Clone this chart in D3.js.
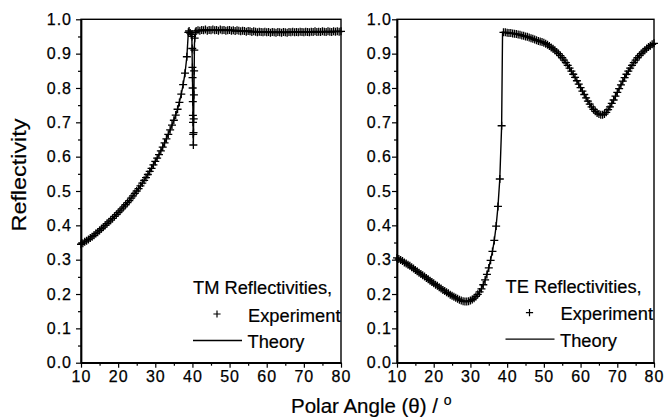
<!DOCTYPE html>
<html><head><meta charset="utf-8">
<script src="https://cdn.jsdelivr.net/npm/d3@7"></script>
<style>
html,body{margin:0;padding:0;background:#fff;}
svg text{font-family:"Liberation Sans",Arial,Helvetica,sans-serif;fill:#000;}
</style></head>
<body><svg id="c" width="664" height="419"></svg>
<script>
// ---------- DATA ----------
const xTicks = [10,20,30,40,50,60,70,80];
const yTicks = [0.0,0.1,0.2,0.3,0.4,0.5,0.6,0.7,0.8,0.9,1.0];

// TM experiment [angle, reflectivity]
const tmExp = [
[10,0.345],[10.5,0.348],[11,0.352],[11.5,0.355],[12,0.359],[12.5,0.363],[13,0.367],[13.5,0.371],[14,0.376],[14.5,0.380],
[15,0.385],[15.5,0.390],[16,0.395],[16.5,0.400],[17,0.405],[17.5,0.410],[18,0.415],[18.5,0.420],[19,0.426],[19.5,0.431],
[20,0.437],[20.5,0.442],[21,0.448],[21.5,0.454],[22,0.460],[22.5,0.466],[23,0.472],[23.5,0.479],[24,0.486],[24.5,0.493],
[25,0.500],[25.5,0.507],[26,0.515],[26.5,0.523],[27,0.531],[27.5,0.539],[28,0.548],[28.5,0.557],[29,0.566],[29.5,0.576],
[30,0.586],[30.5,0.596],[31,0.606],[31.5,0.617],[32,0.628],[32.5,0.640],[33,0.652],[33.5,0.665],[34,0.678],[34.5,0.692],
[35,0.706],[35.5,0.721],[36,0.738],[36.5,0.758],[37,0.782],[37.5,0.810],[38,0.843],[38.5,0.891],[38.9,0.962],[39.1,0.966],
[39.4,0.960],[39.7,0.956],[39.9,0.950],[39.95,0.915],[40.0,0.860],[40.03,0.830],[40.06,0.800],[40.1,0.760],[40.13,0.720],
[40.16,0.700],[40.2,0.665],[40.25,0.634],[40.3,0.670],[40.35,0.710],[40.4,0.780],[40.45,0.850],[40.5,0.910],[40.6,0.945],
[40.8,0.962],[41,0.966],[41.5,0.968],[42,0.967],[42.5,0.969],[43,0.968],[43.5,0.970],[44,0.967],[44.5,0.969],[45,0.968],
[45.5,0.970],[46,0.968],[46.5,0.969],[47,0.967],[47.5,0.970],[48,0.968],[48.5,0.969],[49,0.967],[49.5,0.968],[50,0.969],
[50.5,0.967],[51,0.968],[51.5,0.966],[52,0.968],[52.5,0.967],[53,0.965],[53.5,0.967],[54,0.966],[54.5,0.964],[55,0.966],
[55.5,0.965],[56,0.963],[56.5,0.965],[57,0.964],[57.5,0.962],[58,0.964],[58.5,0.963],[59,0.962],[59.5,0.964],[60,0.962],
[60.5,0.963],[61,0.961],[61.5,0.963],[62,0.962],[62.5,0.961],[63,0.963],[63.5,0.962],[64,0.961],[64.5,0.963],[65,0.962],
[65.5,0.961],[66,0.963],[66.5,0.962],[67,0.964],[67.5,0.962],[68,0.963],[68.5,0.962],[69,0.964],[69.5,0.963],[70,0.962],
[70.5,0.964],[71,0.963],[71.5,0.962],[72,0.964],[72.5,0.963],[73,0.965],[73.5,0.963],[74,0.964],[74.5,0.963],[75,0.965],
[75.5,0.964],[76,0.963],[76.5,0.965],[77,0.964],[77.5,0.963],[78,0.965],[78.5,0.964],[79,0.965],[79.5,0.964],[80,0.965]
];
// TM theory
const tmThe = [
[10,0.345],[12,0.359],[14,0.376],[16,0.395],[18,0.415],[20,0.437],[22,0.460],[24,0.486],[26,0.515],[28,0.548],
[30,0.586],[31,0.606],[32,0.628],[33,0.652],[34,0.678],[35,0.706],[36,0.738],[37,0.782],[37.5,0.810],[38,0.843],
[38.5,0.891],[38.9,0.962],[39.1,0.966],[39.5,0.958],[39.85,0.950],[40.05,0.800],[40.25,0.634],[40.4,0.780],
[40.55,0.930],[40.8,0.962],[41,0.966],[45,0.968],[50,0.968],[55,0.965],[60,0.963],[65,0.962],[70,0.963],[75,0.964],[80,0.965]
];

// TE experiment
const teExp = [
[10,0.305],[10.5,0.302],[11,0.299],[11.5,0.296],[12,0.292],[12.5,0.289],[13,0.285],[13.5,0.282],[14,0.278],[14.5,0.274],
[15,0.270],[15.5,0.266],[16,0.262],[16.5,0.258],[17,0.255],[17.5,0.251],[18,0.247],[18.5,0.243],[19,0.239],[19.5,0.235],
[20,0.231],[20.5,0.227],[21,0.224],[21.5,0.220],[22,0.216],[22.5,0.212],[23,0.209],[23.5,0.205],[24,0.202],[24.5,0.198],
[25,0.195],[25.5,0.192],[26,0.189],[26.5,0.186],[27,0.183],[27.5,0.181],[28,0.179],[28.5,0.178],[29,0.178],[29.5,0.179],
[30,0.181],[30.5,0.184],[31,0.188],[31.5,0.193],[32,0.199],[32.5,0.206],[33,0.215],[33.5,0.227],[34,0.241],[34.5,0.257],
[35,0.276],[35.5,0.298],[36,0.324],[36.5,0.356],[37,0.398],[37.5,0.455],[38,0.535],[38.5,0.690],[39,0.962],[39.5,0.962],
[40,0.961],[40.5,0.960],[41,0.960],[41.5,0.959],[42,0.958],[42.5,0.957],[43,0.956],[43.5,0.955],[44,0.953],[44.5,0.952],
[45,0.950],[45.5,0.949],[46,0.947],[46.5,0.945],[47,0.943],[47.5,0.941],[48,0.939],[48.5,0.937],[49,0.935],[49.5,0.934],
[50,0.932],[50.5,0.929],[51,0.926],[51.5,0.922],[52,0.918],[52.5,0.914],[53,0.910],[53.5,0.905],[54,0.900],[54.5,0.894],
[55,0.888],[55.5,0.881],[56,0.874],[56.5,0.866],[57,0.858],[57.5,0.849],[58,0.840],[58.5,0.831],[59,0.821],[59.5,0.811],
[60,0.801],[60.5,0.791],[61,0.781],[61.5,0.771],[62,0.762],[62.5,0.753],[63,0.745],[63.5,0.738],[64,0.732],[64.5,0.727],
[65,0.724],[65.5,0.722],[66,0.722],[66.5,0.724],[67,0.729],[67.5,0.737],[68,0.745],[68.5,0.755],[69,0.765],[69.5,0.776],
[70,0.787],[70.5,0.798],[71,0.809],[71.5,0.820],[72,0.830],[72.5,0.840],[73,0.849],[73.5,0.858],[74,0.866],[74.5,0.874],
[75,0.881],[75.5,0.888],[76,0.894],[76.5,0.900],[77,0.905],[77.5,0.910],[78,0.915],[78.5,0.919],[79,0.923],[79.5,0.927],[80,0.930]
];
// TE theory
const teThe = [
[10,0.305],[12,0.292],[14,0.278],[16,0.262],[18,0.247],[20,0.231],[22,0.216],[24,0.202],[26,0.189],[27,0.183],
[28,0.179],[29,0.178],[30,0.181],[31,0.188],[32,0.199],[33,0.215],[34,0.241],[35,0.276],[36,0.324],[36.5,0.356],
[37,0.398],[37.5,0.455],[38,0.535],[38.5,0.690],[38.75,0.962],[40,0.961],[42,0.958],[44,0.953],[46,0.947],[48,0.939],
[50,0.932],[52,0.918],[54,0.900],[56,0.874],[58,0.840],[60,0.801],[62,0.762],[63,0.745],[64,0.732],[65,0.724],
[66,0.722],[67,0.729],[68,0.745],[69,0.765],[70,0.787],[72,0.830],[74,0.866],[76,0.894],[78,0.915],[80,0.930]
];

const panels = [
  {exp: tmExp, the: tmThe, x0: 81, x1: 341, title: "TM Reflectivities,", lx: 193, ly: 294, labGap: 8},
  {exp: teExp, the: teThe, x0: 397, x1: 654, title: "TE Reflectivities,", lx: 505.5, ly: 292.7, labGap: 4}
];

// ---------- DRAW ----------
const svg = d3.select("#c");
const yTop = 19.3, yBot = 362.7;
const crossPath = "M-4,0H4M0,-4V4";

panels.forEach(p => {
  const x = d3.scaleLinear().domain([10,80]).range([p.x0, p.x1]);
  const y = d3.scaleLinear().domain([0,1]).range([yBot, yTop]);
  const g = svg.append("g");

  g.append("path").datum(p.the)
    .attr("fill","none").attr("stroke","#000").attr("stroke-width",1.4)
    .attr("d", d3.line().x(d=>x(d[0])).y(d=>y(d[1])));

  g.selectAll("path.cr").data(p.exp).enter().append("path")
    .attr("class","cr")
    .attr("transform", d=>`translate(${x(d[0])},${y(d[1])})`)
    .attr("d", crossPath).attr("stroke","#000").attr("stroke-width",1.3).attr("fill","none");

  g.append("rect").attr("x",p.x0).attr("y",yTop).attr("width",p.x1-p.x0).attr("height",yBot-yTop)
    .attr("fill","none").attr("stroke","#000").attr("stroke-width",1.4);

  const xa = g.append("g").attr("transform",`translate(0,${yBot})`)
    .call(d3.axisBottom(x).tickValues(xTicks).tickSize(5).tickSizeOuter(0).tickPadding(3).tickFormat(d3.format("d")));
  g.append("g").attr("transform",`translate(0,${yBot})`)
    .call(d3.axisBottom(x).tickValues(d3.range(15,80,10)).tickSize(3).tickSizeOuter(0).tickFormat(""));
  const ya = g.append("g").attr("transform",`translate(${p.x0},0)`)
    .call(d3.axisLeft(y).tickValues(yTicks).tickSize(5).tickSizeOuter(0).tickFormat(d3.format(".1f")));
  g.append("g").attr("transform",`translate(${p.x0},0)`)
    .call(d3.axisLeft(y).tickValues(d3.range(0.05,1,0.1)).tickSize(3).tickSizeOuter(0).tickFormat(""));

  g.selectAll(".domain").attr("stroke","#000").attr("stroke-width",1.4);
  g.selectAll(".tick line").attr("stroke","#000").attr("stroke-width",1.2);
  [xa, ya].forEach(a => a.selectAll("text").attr("font-size",16).attr("letter-spacing","1px")
    .attr("fill","#000").attr("stroke","#000").attr("stroke-width",0.25)
    .attr("font-family","Liberation Sans, Arial, sans-serif"));
  ya.selectAll(".tick text").attr("x", -(p.labGap+1));

  const lg = g.append("g").attr("font-size",18.3);
  lg.append("text").attr("x",p.lx).attr("y",p.ly).attr("stroke","#000").attr("stroke-width",0.2).text(p.title);
  lg.append("path").attr("transform",`translate(${p.lx+24},${p.ly+20})`).attr("d","M-3.6,0H3.6M0,-3.6V3.6")
    .attr("stroke","#000").attr("stroke-width",1.2);
  lg.append("text").attr("x",p.lx+55).attr("y",p.ly+27.5).attr("stroke","#000").attr("stroke-width",0.2).text("Experiment");
  lg.append("line").attr("x1",p.lx).attr("x2",p.lx+49).attr("y1",p.ly+46.5).attr("y2",p.ly+46.5)
    .attr("stroke","#000").attr("stroke-width",1.3);
  lg.append("text").attr("x",p.lx+54.5).attr("y",p.ly+54).attr("stroke","#000").attr("stroke-width",0.2).text("Theory");
});

svg.append("text").attr("transform","translate(26,175) rotate(-90)").attr("text-anchor","middle")
  .attr("font-size",21).attr("textLength",113).attr("lengthAdjust","spacingAndGlyphs")
  .attr("stroke","#000").attr("stroke-width",0.2).text("Reflectivity");
const xt = svg.append("text").attr("x",291).attr("y",413).attr("font-size",20.5).attr("stroke","#000").attr("stroke-width",0.2);
xt.append("tspan").text("Polar Angle (θ) / ");
xt.append("tspan").attr("font-size",14).attr("dy",-8).text("o");
</script></body></html>
